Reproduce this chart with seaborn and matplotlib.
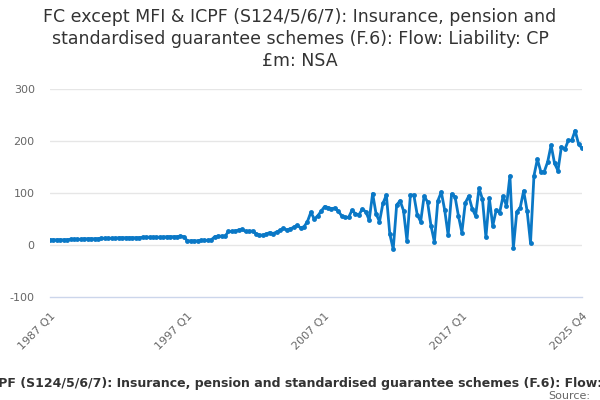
import matplotlib
matplotlib.use("Agg")
import matplotlib.pyplot as plt
import seaborn as sns
import pandas as pd

start_year = 1987
values = [
    10, 10, 10, 10, 10, 10, 11, 11, 11, 11, 12, 12, 12, 12, 12, 13, 13, 13, 13, 13,
    14, 14, 14, 14, 14, 14, 14, 15, 15, 15, 15, 15, 15, 15, 16, 16, 16, 16, 17, 16,
    8, 8, 8, 8, 9, 9, 9, 10,
    16, 17, 17, 17, 26, 26, 27, 29, 30, 26, 26, 27, 22, 19, 19, 21, 24, 22, 25, 28,
    32, 29, 31, 34, 38, 33, 35, 45, 63, 50, 56, 65,
    74, 72, 70, 71, 65, 56, 53, 53, 67, 60, 58, 69, 64, 48, 99, 60, 45, 80, 96, 21,
    -8, 77, 85, 66, 8, 96, 96, 58, 45, 94, 83, 37, 6, 85,
    102, 67, 19, 98, 93, 56, 24, 81, 94, 70, 56, 109, 88, 15, 90, 37, 67, 62, 94, 75,
    133, -6, 64, 72, 104, 66, 4, 133, 165, 141, 141, 160, 192, 157, 143, 189, 184, 201, 201, 220,
    194, 186,
]
quarters = [f"{start_year + i // 4} Q{i % 4 + 1}" for i in range(len(values))]
tick_labels = ["1987 Q1", "1997 Q1", "2007 Q1", "2017 Q1", "2025 Q4"]
y_ticks = [-100, 0, 100, 200, 300]
title = ("FC except MFI & ICPF (S124/5/6/7): Insurance, pension and "
         "standardised guarantee schemes (F.6): Flow: Liability: CP £m: NSA")

df = pd.DataFrame({"idx": range(len(values)), "quarter": quarters, "value": values})

sns.set_style("white")
plt.rcParams['font.family'] = ['DejaVu Sans']

fig = plt.figure(figsize=(6, 4), dpi=100)
ax = fig.add_axes([50 / 600, 1 - 297 / 400, 532 / 600, 208 / 400])

line_color = "#0a78c6"
sns.lineplot(data=df, x="idx", y="value", ax=ax, color=line_color, linewidth=2,
             marker="o", markersize=3.5, markeredgewidth=0, zorder=3)

ax.set_xlim(0, len(values) - 1)
ax.set_ylim(-100, 300)
ax.set_yticks(y_ticks)
ax.set_yticklabels([str(v) for v in y_ticks])
for v in y_ticks[1:]:
    ax.axhline(v, color="#e6e6e6", linewidth=1, zorder=1)

major_pos = [quarters.index(t) for t in tick_labels]
ax.set_xticks(major_pos)
ax.set_xticklabels(tick_labels, rotation=45, ha="right", rotation_mode="anchor")
ax.set_xticks(list(range(0, len(values), 10)), minor=True)

for s in ["top", "right", "left"]:
    ax.spines[s].set_visible(False)
ax.spines["bottom"].set_color("#ccd6eb")
ax.spines["bottom"].set_linewidth(1)

ax.tick_params(axis="x", which="both", direction="out", length=7, width=1,
               color="#ccd6eb", labelcolor="#666666", labelsize=8, pad=3)
ax.tick_params(axis="y", length=0, labelcolor="#666666", labelsize=8, pad=11)
ax.set_xlabel("")
ax.set_ylabel("")

fig.text(0.5, 1 - 39 / 400, "FC except MFI & ICPF (S124/5/6/7): Insurance, pension and\n"
         "standardised guarantee schemes (F.6): Flow: Liability: CP\n£m: NSA",
         ha="center", va="center", fontsize=12.5, color="#333333", linespacing=1.25)

fig.text(0.5167, 1 - 384 / 400, title, ha="center", va="center", fontsize=9.0,
         fontweight="bold", color="#333333")
fig.text(590 / 600, 1 - 396 / 400, "Source:", ha="right", va="center", fontsize=8,
         color="#666666")

fig.savefig("out.png", dpi=100)
